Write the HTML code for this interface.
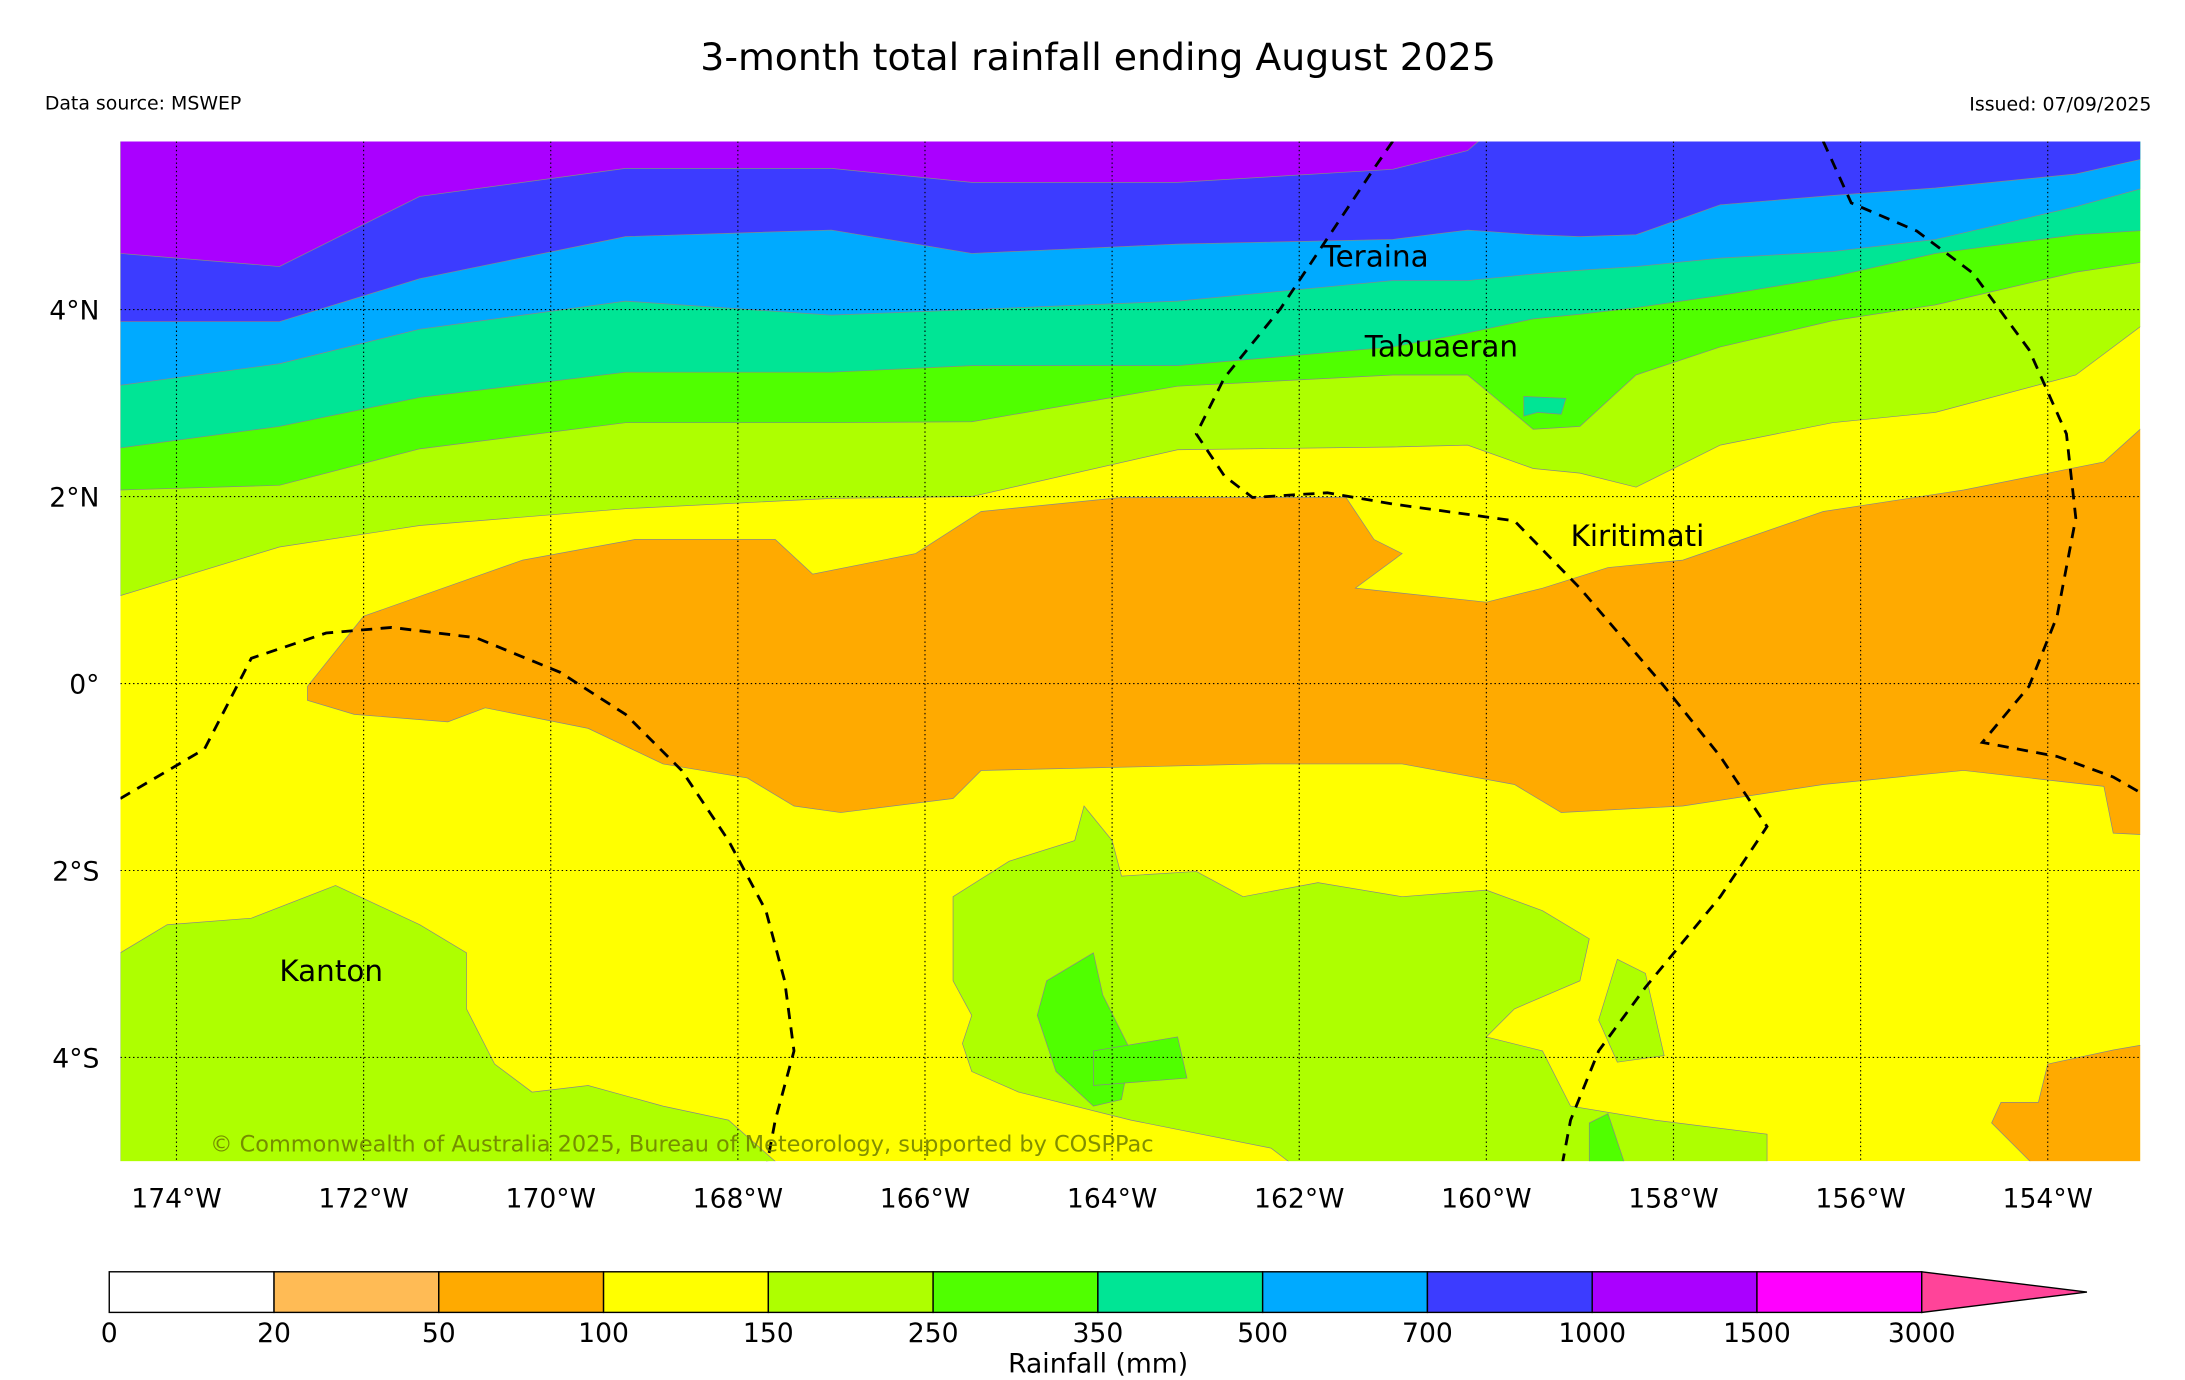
<!DOCTYPE html>
<html><head><meta charset="utf-8"><style>
html,body{margin:0;padding:0;background:#fff;}
svg{display:block;font-family:"DejaVu Sans","Liberation Sans",sans-serif;}
</style></head><body>
<svg id="chart" width="2185" height="1380" viewBox="0 0 1560 985.26">
<text x="784" y="50" font-size="27" text-anchor="middle">3-month total rainfall ending August 2025</text>
<text x="32" y="78" font-size="13.5">Data source: MSWEP</text>
<text x="1536" y="79" font-size="13.5" text-anchor="end">Issued: 07/09/2025</text>
<defs><clipPath id="mapclip"><rect x="86" y="101" width="1442" height="728"/></clipPath></defs>
<g id="map" clip-path="url(#mapclip)"></g>
<g id="axes"></g>
<g id="cbar"></g>
</svg>
<script>
// ---- data ----
const levels = ["0","20","50","100","150","250","350","500","700","1000","1500","3000"];
const levelColors = ["#ffffff","#ffbb55","#ffaa00","#ffff00","#aeff00","#50ff00","#00e595","#00aaff","#3c3cff","#aa00ff","#ff00ff"];
const extendColor = "#ff4499";
const lonTicks = [-174,-172,-170,-168,-166,-164,-162,-160,-158,-156,-154];
const latTicks = [4,2,0,-2,-4];
// Northern contour boundaries: lon samples and latitudes (deg) per boundary
const bLons = [-174.6,-172.9,-171.4,-169.2,-167.0,-165.5,-163.3,-161.0,-160.2,-159.5,-159.0,-158.4,-157.5,-156.3,-155.2,-153.7,-152.9];
const b150 = [0.94,1.46,1.69,1.87,1.98,2.0,2.5,2.53,2.55,2.3,2.25,2.1,2.55,2.79,2.9,3.3,3.9];
const b250 = [2.07,2.12,2.51,2.79,2.79,2.8,3.18,3.3,3.3,2.72,2.75,3.3,3.6,3.88,4.05,4.4,4.52];
const b350 = [2.52,2.75,3.06,3.33,3.33,3.4,3.4,3.6,3.75,3.9,3.95,4.02,4.15,4.35,4.6,4.8,4.85];
const b500 = [3.19,3.42,3.79,4.09,3.94,4.0,4.09,4.31,4.31,4.38,4.42,4.46,4.55,4.62,4.75,5.1,5.32];
const b700 = [3.87,3.87,4.33,4.78,4.85,4.6,4.7,4.75,4.85,4.8,4.78,4.8,5.12,5.22,5.3,5.45,5.63];
const b1000= [4.6,4.46,5.21,5.51,5.51,5.36,5.36,5.5,5.7,6.3,6.3,6.3,6.3,6.3,6.3,6.3,6.3];
// Southern / local regions as lon/lat polygons
const orangeMain = [[-172.6,-0.03],[-172.0,0.72],[-170.3,1.32],[-169.1,1.54],[-167.6,1.54],[-167.2,1.17],[-166.1,1.39],[-165.4,1.84],[-163.9,1.99],[-161.5,1.99],[-161.2,1.54],[-160.9,1.39],[-161.4,1.02],[-160.0,0.87],[-159.4,1.02],[-158.7,1.24],[-157.9,1.32],[-156.4,1.84],[-154.9,2.07],[-153.4,2.37],[-152.9,2.82],[-152.9,-1.62],[-153.3,-1.6],[-153.4,-1.1],[-154.9,-0.93],[-156.4,-1.08],[-157.9,-1.31],[-159.2,-1.38],[-159.7,-1.08],[-160.9,-0.86],[-162.4,-0.86],[-165.4,-0.93],[-165.7,-1.23],[-166.9,-1.38],[-167.4,-1.31],[-167.9,-1.01],[-168.8,-0.86],[-169.6,-0.48],[-170.7,-0.26],[-171.1,-0.41],[-172.1,-0.33],[-172.6,-0.18]];
const orangeSE = [[-154.0,-4.07],[-153.3,-3.92],[-152.9,-3.85],[-152.9,-5.2],[-154.1,-5.2],[-154.6,-4.7],[-154.5,-4.48],[-154.1,-4.48]];
const greenKanton = [[-174.6,-2.88],[-174.1,-2.58],[-173.2,-2.51],[-172.3,-2.16],[-171.4,-2.58],[-170.9,-2.88],[-170.9,-3.48],[-170.6,-4.07],[-170.2,-4.37],[-169.6,-4.3],[-168.8,-4.52],[-168.1,-4.67],[-167.5,-5.2],[-174.6,-5.2]];
const greenCentral = [[-165.7,-2.28],[-165.1,-1.9],[-164.4,-1.68],[-164.3,-1.31],[-164.0,-1.68],[-163.9,-2.06],[-163.1,-2.01],[-162.6,-2.28],[-161.8,-2.13],[-160.9,-2.28],[-160.0,-2.21],[-159.4,-2.43],[-158.9,-2.73],[-159.0,-3.18],[-159.7,-3.48],[-160.0,-3.78],[-159.4,-3.93],[-159.1,-4.52],[-158.2,-4.67],[-157.0,-4.82],[-157.0,-5.2],[-162.0,-5.2],[-162.3,-4.97],[-163.8,-4.67],[-165.0,-4.37],[-165.5,-4.15],[-165.6,-3.85],[-165.5,-3.55],[-165.7,-3.18]];
const greenSmall = [[-158.6,-2.95],[-158.3,-3.1],[-158.1,-3.98],[-158.6,-4.05],[-158.8,-3.6]];
const green350a = [[-164.7,-3.18],[-164.2,-2.88],[-164.1,-3.33],[-163.8,-3.93],[-163.9,-4.45],[-164.2,-4.52],[-164.6,-4.15],[-164.8,-3.55]];
const green350b = [[-164.2,-3.93],[-163.3,-3.78],[-163.2,-4.22],[-164.2,-4.3]];
const green350c = [[-158.9,-4.7],[-158.7,-4.6],[-158.5,-5.2],[-158.9,-5.2]];
const tealSpot = [[-159.6,3.07],[-159.15,3.05],[-159.2,2.88],[-159.45,2.9],[-159.6,2.86]];
const eez1 = [[-174.6,-1.23],[-173.7,-0.7],[-173.2,0.27],[-172.4,0.54],[-171.7,0.6],[-170.8,0.49],[-169.9,0.12],[-169.2,-0.33],[-168.6,-0.93],[-168.1,-1.68],[-167.7,-2.43],[-167.5,-3.18],[-167.4,-3.93],[-167.6,-4.67],[-167.7,-5.2]];
const eez2 = [[-161.0,5.8],[-161.2,5.51],[-161.6,4.91],[-162.2,4.01],[-162.8,3.27],[-163.1,2.67],[-162.8,2.22],[-162.5,1.99],[-161.7,2.04],[-161.0,1.92],[-159.7,1.74],[-159.0,1.02],[-158.1,-0.03],[-157.5,-0.78],[-157.0,-1.53],[-157.5,-2.28],[-158.3,-3.25],[-158.8,-3.93],[-159.1,-4.67],[-159.2,-5.2]];
const eez3 = [[-156.4,5.8],[-156.1,5.14],[-155.4,4.84],[-154.8,4.39],[-154.2,3.57],[-153.8,2.67],[-153.7,1.77],[-153.9,0.72],[-154.2,-0.03],[-154.7,-0.63],[-153.9,-0.78],[-153.3,-1.0],[-152.9,-1.23]];
const places = [["Teraina",-161.75,4.46],["Tabuaeran",-161.3,3.5],["Kiritimati",-159.1,1.47],["Kanton",-172.9,-3.18]];
// ---- scales ----
const X = lon => 126 + (lon + 174) * 66.8;
const Y = lat => 488 - lat * 66.75;
const NS = "http://www.w3.org/2000/svg";
function mk(tag, attrs, parent){const e=document.createElementNS(NS,tag);for(const k in attrs)e.setAttribute(k,attrs[k]);parent.appendChild(e);return e;}
const map = document.getElementById('map');
const bg = mk('rect',{x:86,y:101,width:1442,height:728,fill:levelColors[3]},map);


const bounds=[b150,b250,b350,b500,b700,b1000];
const bandNames=['band-150-250','band-250-350','band-350-500','band-500-700','band-700-1000','band-1000-1500'];
bounds.forEach((b,i)=>{
  let d='M'+X(bLons[0])+','+Y(b[0]);
  for(let j=1;j<bLons.length;j++) d+=' L'+X(bLons[j])+','+Y(b[j]);
  d+=' L'+X(bLons[bLons.length-1])+','+Y(8)+' L'+X(bLons[0])+','+Y(8)+'Z';
  const p=mk('path',{d:d,fill:levelColors[4+i],stroke:'#888',"stroke-width":0.5},map);
  
  
});
function poly(pts,fill,name){
  const p=mk('polygon',{points:pts.map(q=>X(q[0])+','+Y(q[1])).join(' '),fill:fill,stroke:'#888',"stroke-width":0.5},map);
  
  
}
poly(tealSpot,levelColors[6],'band-350-500-spot');
poly(orangeMain,levelColors[2],'band-50-100-equatorial');
poly(orangeSE,levelColors[2],'band-50-100-southeast');
poly(greenKanton,levelColors[4],'band-150-250-kanton');
poly(greenCentral,levelColors[4],'band-150-250-central');
poly(greenSmall,levelColors[4],'band-150-250-small');
poly(green350a,levelColors[5],'band-250-350-a');
poly(green350b,levelColors[5],'band-250-350-b');
poly(green350c,levelColors[5],'band-250-350-c');
// grid
lonTicks.forEach(l=>{const g=mk('line',{x1:X(l),x2:X(l),y1:101,y2:829,stroke:'#000',"stroke-width":0.8,"stroke-dasharray":"1,2"},map);

});
latTicks.forEach(l=>{const g=mk('line',{x1:86,x2:1528,y1:Y(l),y2:Y(l),stroke:'#000',"stroke-width":0.8,"stroke-dasharray":"1,2"},map);

});
[eez1,eez2,eez3].forEach((e,i)=>{const p=mk('polyline',{points:e.map(q=>X(q[0])+','+Y(q[1])).join(' '),fill:'none',stroke:'#000',"stroke-width":2,"stroke-dasharray":"8,6"},map);

});
places.forEach(p=>{const t=mk('text',{x:X(p[1]),y:Y(p[2]),"font-size":21},map);t.textContent=p[0];

});
const cp=mk('text',{x:150,y:822,"font-size":16,fill:'#6b7a00',"fill-opacity":0.85},map);
cp.textContent='© Commonwealth of Australia 2025, Bureau of Meteorology, supported by COSPPac';


// axes labels
const axes=document.getElementById('axes');
lonTicks.forEach(l=>{const t=mk('text',{x:X(l),y:862,"font-size":19,"text-anchor":"middle"},axes);t.textContent=Math.abs(l)+'°W';

});
latTicks.forEach(l=>{const t=mk('text',{x:71,y:Y(l)+7,"font-size":19,"text-anchor":"end"},axes);t.textContent=l===0?'0°':Math.abs(l)+'°'+(l>0?'N':'S');

});
// colorbar
const cb=document.getElementById('cbar');
const cx0=78,cw=117.64,cy=908,ch=29;
levelColors.forEach((c,i)=>{const r=mk('rect',{x:cx0+i*cw,y:cy,width:cw,height:ch,fill:c,stroke:'#000',"stroke-width":1},cb);

});
const tri=mk('polygon',{points:(cx0+11*cw)+','+cy+' '+1490+','+(cy+ch/2)+' '+(cx0+11*cw)+','+(cy+ch),fill:extendColor,stroke:'#000',"stroke-width":1},cb);


levels.forEach((v,i)=>{const t=mk('text',{x:cx0+i*cw,y:958,"font-size":19,"text-anchor":"middle"},cb);t.textContent=v;

});
const lab=mk('text',{x:784,y:980,"font-size":19,"text-anchor":"middle"},cb);lab.textContent='Rainfall (mm)';


</script>
</body></html>
